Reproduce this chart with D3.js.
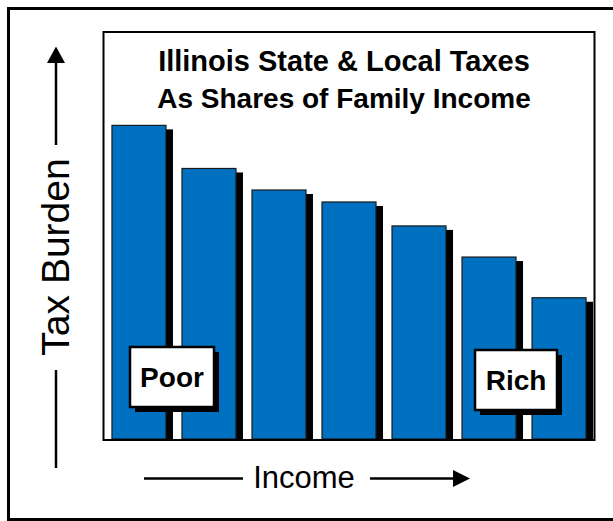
<!DOCTYPE html>
<html><head><meta charset="utf-8">
<script src="https://cdn.jsdelivr.net/npm/d3@7"></script>
<style>body{margin:0;background:#fff}svg{display:block}</style>
</head><body>
<script>
const categories = ["Lowest 20%","Second 20%","Middle 20%","Fourth 20%","Next 15%","Next 4%","Top 1%"];
const shares = [13.1, 11.3, 10.4, 9.9, 8.9, 7.6, 5.9];
const yDomain = [0, 17];
const titleLines = ["Illinois State & Local Taxes", "As Shares of Family Income"];
const endLabels = [{text:"Poor", cat:"Lowest 20%"}, {text:"Rich", cat:"Next 4%"}];

const W = 613, H = 521;
const svg = d3.select("body").append("svg").attr("width", W).attr("height", H);
const font = "'Liberation Sans', Arial, sans-serif";

// outer border
svg.append("rect").attr("x", 8.5).attr("y", 8.5).attr("width", 620).attr("height", 511)
  .attr("fill", "none").attr("stroke", "#000").attr("stroke-width", 3);

const plot = {left: 103.5, right: 594.5, top: 32, bottom: 440};
const x = d3.scaleBand().domain(categories).range([plot.left, plot.right])
  .paddingInner(0.2286).paddingOuter(0.121);
const y = d3.scaleLinear().domain(yDomain).range([439, plot.top]);

const sx = 7, sy = 4;
const g = svg.append("g");
// shadows
g.selectAll("rect.sh").data(shares).join("rect").attr("class","sh")
  .attr("x", (d,i) => x(categories[i]) + sx)
  .attr("y", d => y(d) + sy)
  .attr("width", x.bandwidth())
  .attr("height", d => y(0) - y(d) - sy)
  .attr("fill", "#000");
// bars
g.selectAll("rect.bar").data(shares).join("rect").attr("class","bar")
  .attr("x", (d,i) => x(categories[i]))
  .attr("y", d => y(d))
  .attr("width", x.bandwidth())
  .attr("height", d => y(0) - y(d))
  .attr("fill", "#0070C0").attr("stroke", "#1a1a1a").attr("stroke-width", 1.2);

// frame
svg.append("rect").attr("x", plot.left).attr("y", plot.top)
  .attr("width", plot.right - plot.left).attr("height", plot.bottom - plot.top)
  .attr("fill", "none").attr("stroke", "#000").attr("stroke-width", 2);

// title
svg.append("text").attr("x", 344).attr("y", 71).attr("text-anchor","middle")
  .attr("font-family", font).attr("font-weight","bold").attr("font-size", 29)
  .text(titleLines[0]);
svg.append("text").attr("x", 344).attr("y", 108).attr("text-anchor","middle")
  .attr("font-family", font).attr("font-weight","bold").attr("font-size", 28)
  .text(titleLines[1]);

// Poor / Rich boxes
const boxes = [
  {lab: endLabels[0], x0: 130, y0: 347, w: 84, h: 60},
  {lab: endLabels[1], x0: 475, y0: 350, w: 82, h: 60}
];
boxes.forEach(b => {
  svg.append("rect").attr("x", b.x0 + 5).attr("y", b.y0 + 5).attr("width", b.w).attr("height", b.h).attr("fill", "#000");
  svg.append("rect").attr("x", b.x0).attr("y", b.y0).attr("width", b.w).attr("height", b.h)
    .attr("fill", "#fff").attr("stroke", "#000").attr("stroke-width", 2.5);
  svg.append("text").attr("x", b.x0 + b.w/2).attr("y", b.y0 + 40).attr("text-anchor","middle")
    .attr("font-family", font).attr("font-weight","bold").attr("font-size", 28)
    .text(b.lab.text);
});

// Y axis label with arrow
const ax = 56;
svg.append("line").attr("x1", ax).attr("x2", ax).attr("y1", 60).attr("y2", 145).attr("stroke","#000").attr("stroke-width",2.5);
svg.append("path").attr("d", `M${ax},46.5 L${ax-9},63 L${ax+9},63 Z`).attr("fill","#000");
svg.append("line").attr("x1", ax).attr("x2", ax).attr("y1", 370).attr("y2", 468).attr("stroke","#000").attr("stroke-width",2.5);
svg.append("text").attr("transform", `translate(69,257) rotate(-90)`).attr("text-anchor","middle")
  .attr("font-family", font).attr("font-size", 39).text("Tax Burden");

// X axis label with arrow
const ay = 478.5;
svg.append("line").attr("x1", 144).attr("x2", 243).attr("y1", ay).attr("y2", ay).attr("stroke","#000").attr("stroke-width",2.5);
svg.append("line").attr("x1", 370).attr("x2", 455).attr("y1", ay).attr("y2", ay).attr("stroke","#000").attr("stroke-width",2.5);
svg.append("path").attr("d", `M470,${ay} L453,${ay-8.5} L453,${ay+8.5} Z`).attr("fill","#000");
svg.append("text").attr("x", 304).attr("y", 488).attr("text-anchor","middle")
  .attr("font-family", font).attr("font-size", 31).text("Income");
</script>
</body></html>
